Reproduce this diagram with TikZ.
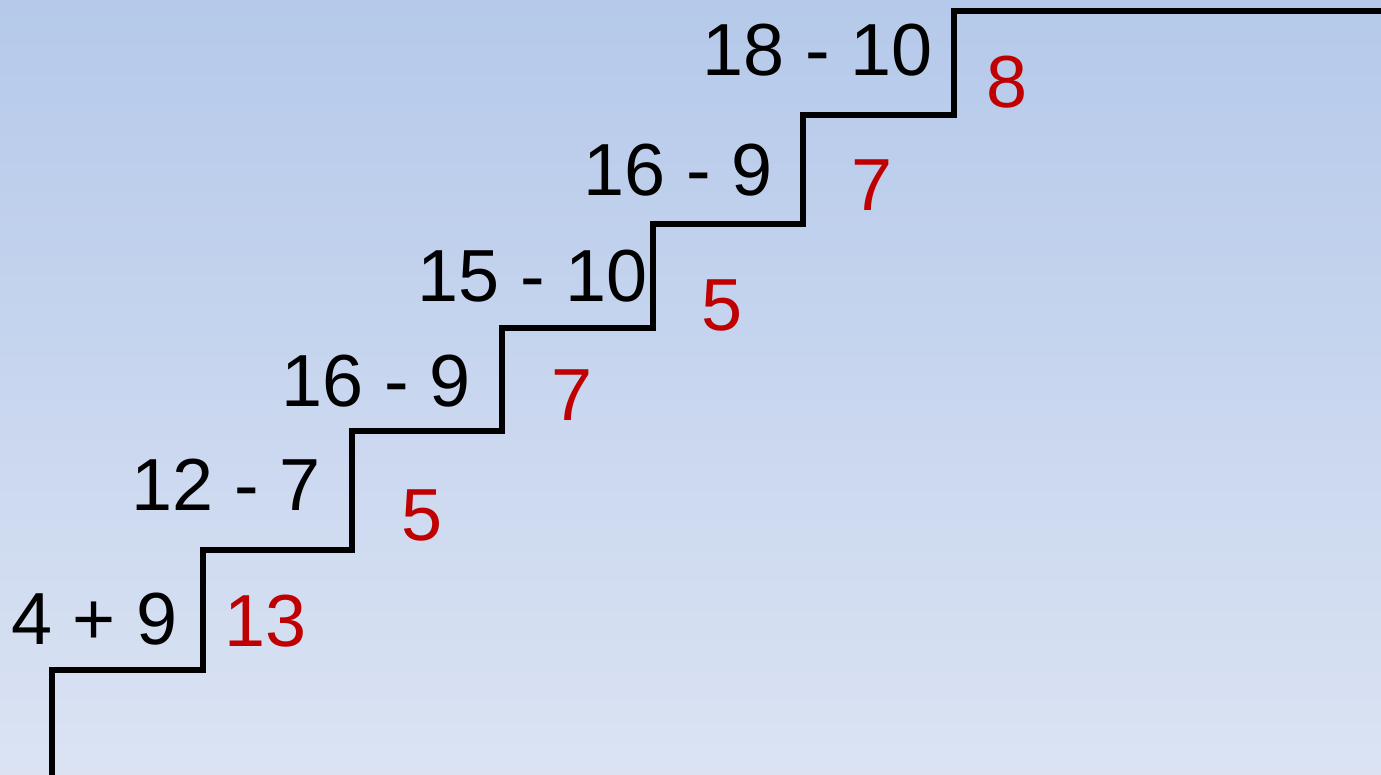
\documentclass[tikz,border=0pt]{standalone}
\usepackage{fontspec}
\setmainfont{Liberation Sans}
\usetikzlibrary{positioning}
\definecolor{SkyTop}{RGB}{181, 201, 234}
\definecolor{SkyBottom}{RGB}{219, 227, 243}
\definecolor{AnswerRed}{RGB}{192, 0, 0}
\tikzset{
  stair/.style={line width=3.3pt, black, line join=miter},
  sum/.style={anchor=east, inner sep=0pt, font=\fontsize{42}{46}\selectfont},
  answer/.style={anchor=west, inner sep=0pt, text=AnswerRed, font=\fontsize{42}{46}\selectfont}
}
\begin{document}
\begin{tikzpicture}[x=0.02cm, y=-0.02cm]
    % Background
    \shade[top color=SkyTop, bottom color=SkyBottom] (0,0) rectangle (1381,774);
    \useasboundingbox (0,0) rectangle (1381,774);

    % Steps
    \coordinate (s0) at (52,780);
    \draw[stair] (s0) |- (203,670) |- (352,550) |- (502,431) |- (653,328)
      |- (803,224) |- (954,115) |- (1390,11);

    % Sums and answers
    \foreach \i/\sx/\sy/\s/\ax/\ay/\a in {
        1/178/619/4 + 9/224/621/13,
        2/321/485/12 - 7/401/515/5,
        3/471/381/16 - 9/551/395/7,
        4/648/276/15 - 10/701/305/5,
        5/773/170/16 - 9/851/185/7,
        6/933/50/18 - 10/986/82/8} {
      \node[sum] (sum\i) at (\sx,\sy) {\s};
      \node[answer] (ans\i) at (\ax,\ay) {\a};
    }
\end{tikzpicture}
\end{document}
